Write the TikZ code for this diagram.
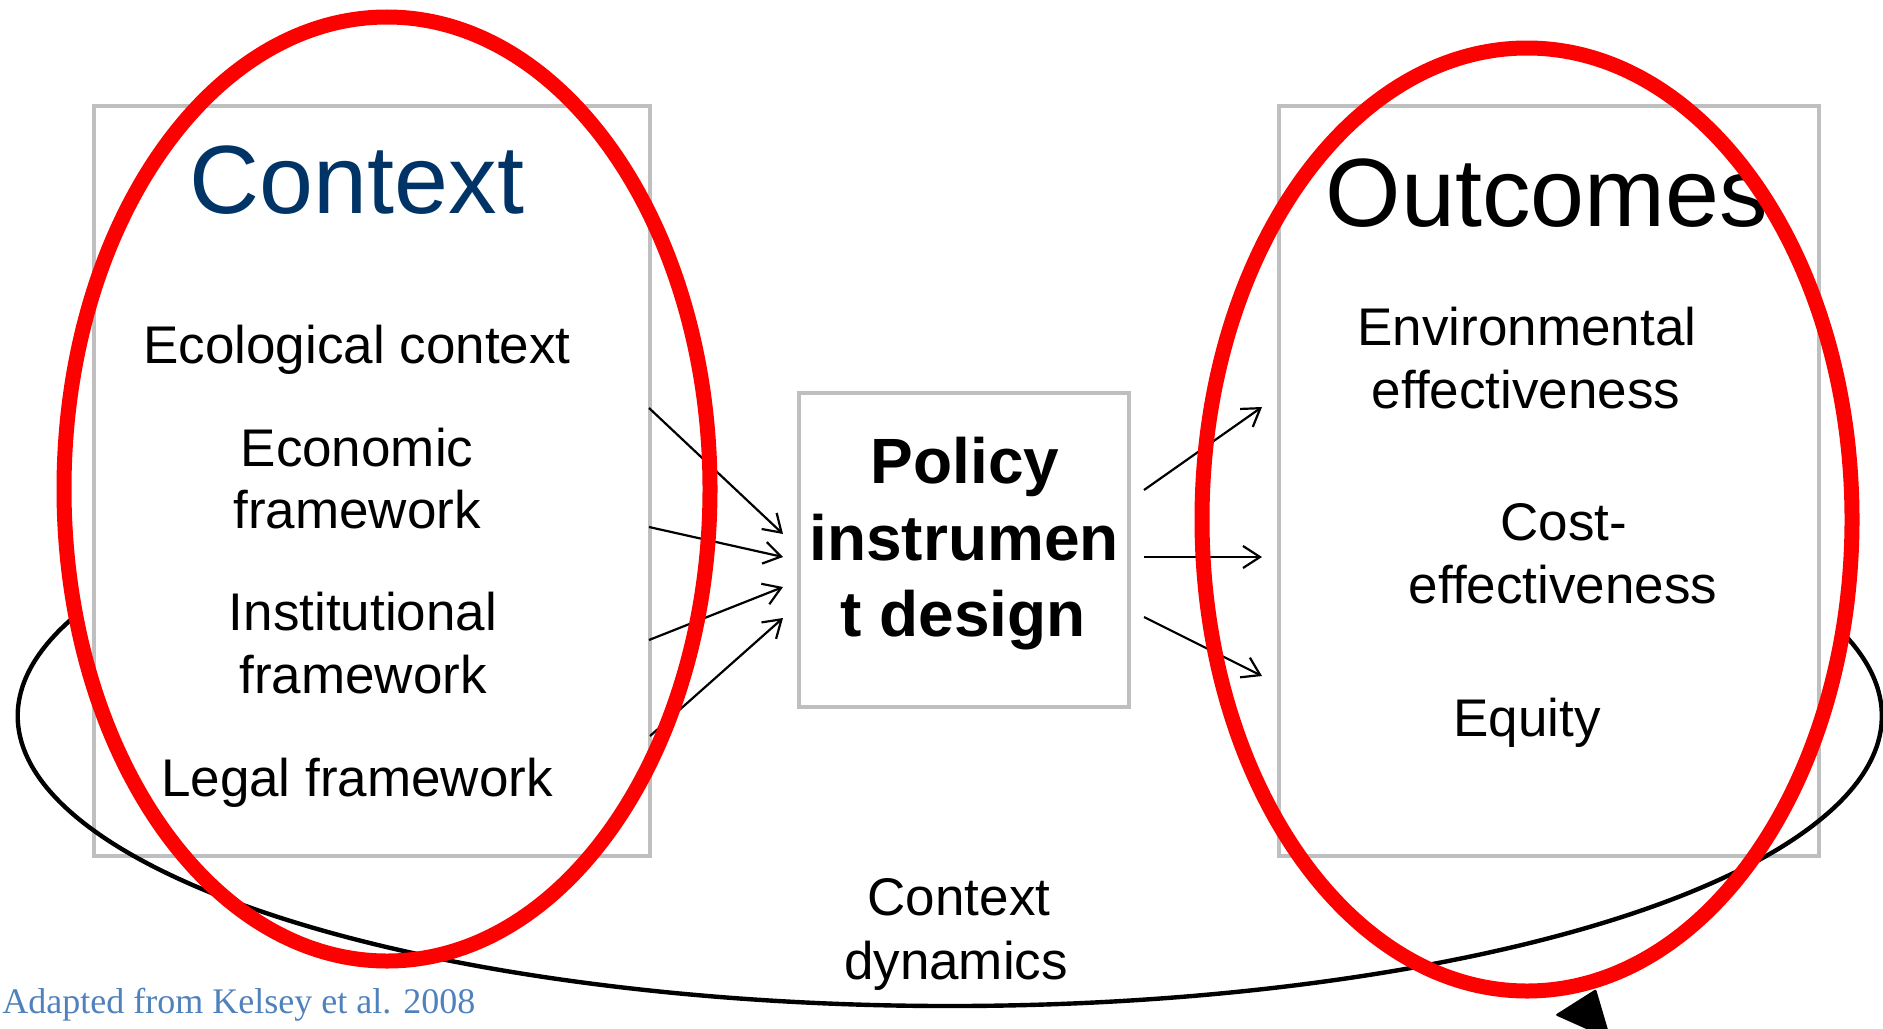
\documentclass[tikz,border=0pt]{standalone}
\usepackage{fontspec}
\setmainfont{Liberation Sans}
\newfontfamily\srcfont{Liberation Serif}
\usetikzlibrary{arrows.meta}
\definecolor{boxgray}{RGB}{191,191,191}
\definecolor{titleblue}{RGB}{0,51,102}
\definecolor{srcblue}{RGB}{79,129,189}
\definecolor{ovalred}{RGB}{255,0,0}
\begin{document}
\begin{tikzpicture}[x=0.5pt,y=-0.5pt,
  panel/.style={draw=boxgray, line width=2pt, rectangle, inner sep=0pt},
  lbl/.style={font=\fontsize{26.5}{31.8}\selectfont, anchor=base, inner sep=0pt},
  ttl/.style={font=\fontsize{48.5}{58}\selectfont, anchor=base, inner sep=0pt},
  pol/.style={font=\fontsize{32}{38}\selectfont\bfseries, anchor=base, inner sep=0pt},
  feed/.style={line width=1.1pt, -{Straight Barb[length=8.5pt,width=11pt]}},
  oval/.style={draw=ovalred, line width=7.5pt},
  loopline/.style={line width=2.2pt, draw=black},
]
\useasboundingbox (0,0) rectangle (1883,1028);
\clip (0,0) rectangle (1883,1028);

% boxes
\node[panel, minimum width=278pt, minimum height=375pt] (ctxbox) at (372,481) {};
\node[panel, minimum width=270pt, minimum height=375pt] (outbox) at (1549,481) {};
\node[panel, minimum width=165pt, minimum height=157pt] (polbox) at (964,550) {};

% arrow end points
\coordinate (l1s) at (649,408);  \coordinate (l1e) at (783,534);
\coordinate (l2s) at (649,527);  \coordinate (l2e) at (783,557);
\coordinate (l3s) at (649,640);  \coordinate (l3e) at (783,587);
\coordinate (l4s) at (650,736);  \coordinate (l4e) at (783,618);
\coordinate (r1s) at (1144,490); \coordinate (r1e) at (1262,407);
\coordinate (r2s) at (1144,557); \coordinate (r2e) at (1262,557);
\coordinate (r3s) at (1144,617); \coordinate (r3e) at (1262,676);

\draw[feed] (l1s) -- (l1e);
\draw[feed] (l2s) -- (l2e);
\draw[feed] (l3s) -- (l3e);
\draw[feed] (l4s) -- (l4e);
\draw[feed] (r1s) -- (r1e);
\draw[feed] (r2s) -- (r2e);
\draw[feed] (r3s) -- (r3e);

% feedback loop
\coordinate (loopstart) at (72.5,618.2);
\draw[loopline] (loopstart) arc[start angle=160.3, end angle=376.2, x radius=466pt, y radius=145pt];
\fill[rounded corners=1pt] (1555,1015) -- (1596,989) -- (1611,1040) -- cycle;

% texts
\node[ttl, text=titleblue] (ctxt) at (357,213) {Context};
\node[ttl] (outt) at (1547,226) {Outcomes};
\node[lbl] (eco) at (357,363) {Ecological context};
\node[lbl] (econ1) at (357,466) {Economic};
\node[lbl] (econ2) at (357,528) {framework};
\node[lbl] (inst1) at (363,630) {Institutional};
\node[lbl] (inst2) at (363,693) {framework};
\node[lbl] (legal) at (357,796) {Legal framework};
\node[pol] (pol1) at (965,483) {Policy};
\node[pol] (pol2) at (964,560) {instrumen};
\node[pol] (pol3) at (963,636) {t design};
\node[lbl] (env1) at (1527,345) {Environmental};
\node[lbl] (env2) at (1526,408) {effectiveness};
\node[lbl] (cost1) at (1564,540) {Cost-};
\node[lbl] (cost2) at (1563,603) {effectiveness};
\node[lbl] (eq) at (1527,736) {Equity};
\node[lbl] (dyn1) at (959,915) {Context};
\node[lbl] (dyn2) at (956,979) {dynamics};
\node[font=\srcfont\fontsize{18}{22}\selectfont, text=srcblue, anchor=base west, inner sep=0pt] (src) at (2,1013) {Adapted from Kelsey et al. 2008};

% red ovals
\draw[oval] (387,489) ellipse [x radius=161.5pt, y radius=236pt];
\draw[oval] (1527,519.5) ellipse [x radius=162.5pt, y radius=235.75pt];
\end{tikzpicture}
\end{document}
